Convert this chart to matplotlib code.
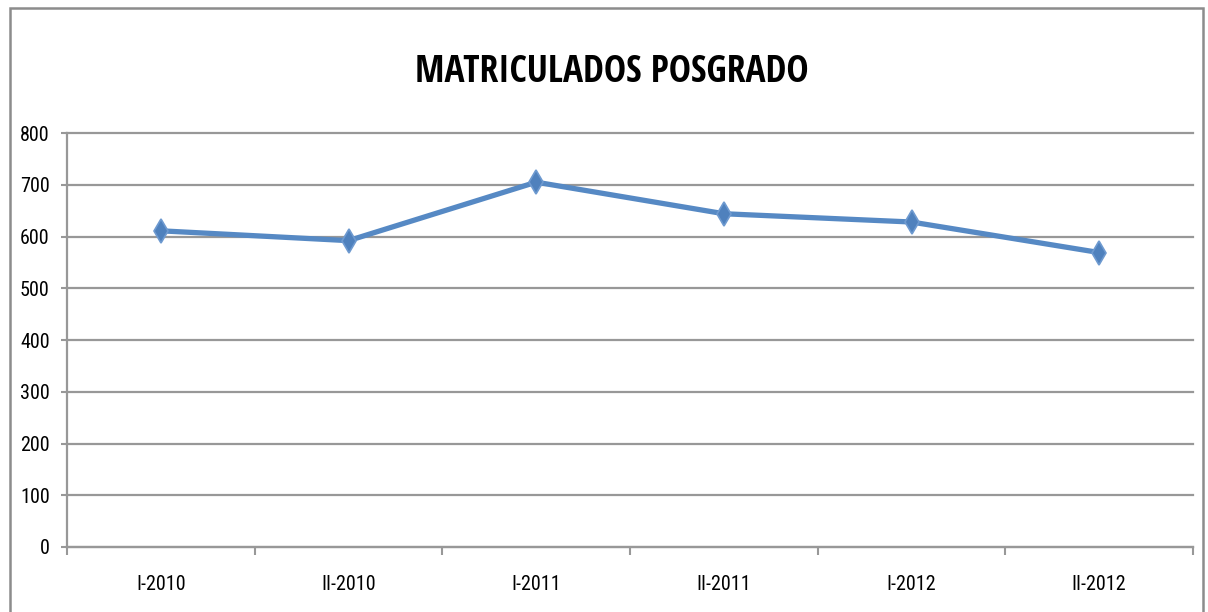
import matplotlib.pyplot as plt
from matplotlib.patches import Rectangle

# data
periods = ['I-2010', 'II-2010', 'I-2011', 'II-2011', 'I-2012', 'II-2012']
matriculados = [611, 592, 705, 644, 628, 569]
y_ticks = [0, 100, 200, 300, 400, 500, 600, 700, 800]

plt.rcParams['font.family'] = ['Roboto Condensed', 'DejaVu Sans']

fig = plt.figure(figsize=(12.08, 6.12), dpi=100)
ax = fig.add_axes([67 / 1208, 1 - 547 / 612, (1193 - 67) / 1208, (547 - 133) / 612])

grid_col = '#989898'
line_col = '#5689C4'

x = list(range(len(periods)))
ax.plot(x, matriculados, color=line_col, linewidth=3.8, marker='d',
        markersize=12, markerfacecolor='#4F81BD', markeredgecolor='#6E9AD0',
        markeredgewidth=1.2, solid_capstyle='round', zorder=3)

ax.set_xlim(-0.5, len(periods) - 0.5)
ax.set_ylim(0, 800)
ax.set_yticks(y_ticks)
ax.set_yticklabels([str(v) for v in y_ticks])
ax.yaxis.grid(True, color=grid_col, linewidth=1.6)
for gl in ax.get_ygridlines():
    gl.set_clip_on(False)
ax.set_axisbelow(True)

# category boundaries as major ticks, labels on minor ticks
ax.set_xticks([i - 0.5 for i in range(len(periods) + 1)])
ax.set_xticklabels([])
ax.set_xticks(x, minor=True)
ax.set_xticklabels(periods, minor=True)
ax.tick_params(axis='x', which='major', length=6, width=1.5, color=grid_col, direction='out')
ax.tick_params(axis='x', which='minor', length=0, pad=20, labelsize=14.5)
ax.tick_params(axis='y', length=4.5, width=1.5, color=grid_col, pad=8, labelsize=14.5)

for side in ['top', 'right']:
    ax.spines[side].set_visible(False)
for side in ['left', 'bottom']:
    ax.spines[side].set_color(grid_col)
    ax.spines[side].set_linewidth(1.6)

fig.text(612 / 1208, 1 - 72 / 612, 'MATRICULADOS POSGRADO', ha='center', va='center',
         fontsize=27, fontweight='bold', family=['Open Sans Condensed', 'DejaVu Sans'])

# chart area border (bottom edge is cut off in the original)
fig.patches.append(Rectangle((10 / 1208, -0.1), (1203 - 10) / 1208, 1.1 - 8 / 612,
                             transform=fig.transFigure, fill=False,
                             edgecolor='#8C8C8C', linewidth=1.8))

fig.savefig('out.png', dpi=100)
